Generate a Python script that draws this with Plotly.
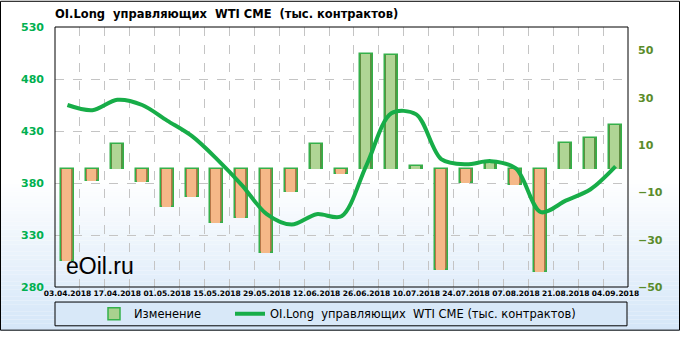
import plotly.graph_objects as go

# ---------------- data ----------------
dates = ["03.04.2018", "10.04.2018", "17.04.2018", "24.04.2018", "01.05.2018", "08.05.2018",
         "15.05.2018", "22.05.2018", "29.05.2018", "05.06.2018", "12.06.2018", "19.06.2018",
         "26.06.2018", "03.07.2018", "10.07.2018", "17.07.2018", "24.07.2018", "31.07.2018",
         "07.08.2018", "14.08.2018", "21.08.2018", "28.08.2018", "04.09.2018"]
change = [-39, -5, 10.5, -5.5, -16, -12, -23, -21, -35.5, -10, 10.5, -2,
          48.5, 48, 1, -43, -6, 2.7, -7, -43.5, 11, 13, 18.5]
oi_long = [455, 450, 460, 455, 440, 425, 403, 378, 350, 340, 350, 348,
           397, 447, 446, 403, 398, 401, 394, 352, 363, 374, 396]
left_ticks = [280, 330, 380, 430, 480, 530]
right_ticks = [-50, -30, -10, 10, 30, 50]

name_bar = "Изменение"
name_line = "OI.Long  управляющих  WTI CME (тыс. контрактов)"
title_text = "OI.Long  управляющих  WTI CME  (тыс. контрактов)"

# ---------------- geometry ----------------
W, H = 680, 340
L, R, T, B = 55, 52, 27, 45
pw, ph = W - L - R, H - T - B


def px(x):
    return (x - L) / pw


def py(y):
    return (H - B - y) / ph


xs = list(range(len(dates)))
pos_dark, pos_light = "#5f8e41", "#b0d595"
neg_dark, neg_light = "#b67648", "#f5b888"
dark_cols = [pos_dark if v >= 0 else neg_dark for v in change]
light_cols = [pos_light if v >= 0 else neg_light for v in change]

fig = go.Figure()
fig.add_trace(go.Bar(x=xs, y=change, width=0.52, yaxis="y", showlegend=False,
                     marker=dict(color=dark_cols, line=dict(color="#34b04a", width=1.5)),
                     hoverinfo="skip"))
fig.add_trace(go.Bar(x=xs, y=change, width=0.36, offset=-0.22, yaxis="y", showlegend=False,
                     marker=dict(color=light_cols, line=dict(width=0)), hoverinfo="skip"))
fig.add_trace(go.Bar(x=[None], y=[None], name=name_bar, yaxis="y", legend="legend",
                     marker=dict(color="#a9d18e", line=dict(color="#34b04a", width=1.5))))
fig.add_trace(go.Scatter(x=xs, y=oi_long, mode="lines", name=name_line, yaxis="y2",
                         legend="legend2",
                         line=dict(color="#17ad48", width=4, shape="spline", smoothing=0.9)))

# ---------------- background shapes ----------------
shapes = []
n = 40
y_top, y_bot = 185, 340
c0, c1 = (255, 255, 255), (212, 230, 248)
for k in range(n):
    a = y_top + (y_bot - y_top) * k / n
    b = y_top + (y_bot - y_top) * (k + 1) / n
    t = (k + 0.5) / n
    col = tuple(round(c0[i] + (c1[i] - c0[i]) * t) for i in range(3))
    shapes.append(dict(type="rect", xref="paper", yref="paper", layer="below",
                       x0=px(0), x1=px(W), y0=py(b), y1=py(a),
                       fillcolor="rgb(%d,%d,%d)" % col, line=dict(width=0)))
# legend box
shapes.append(dict(type="rect", xref="paper", yref="paper", layer="below",
                   x0=px(55), x1=px(627), y0=py(335), y1=py(310.5),
                   fillcolor="#d8e8f8", line=dict(color="black", width=1)))
# plot frame
shapes.append(dict(type="rect", xref="paper", yref="paper", layer="above",
                   x0=0, x1=1, y0=0, y1=1, line=dict(color="black", width=1)))
# outer frame
shapes.append(dict(type="rect", xref="paper", yref="paper", layer="above",
                   x0=px(0.5), x1=px(W - 0.5), y0=py(H - 0.5), y1=py(0.5),
                   line=dict(color="black", width=1)))

leg_font = dict(family="DejaVu Sans", size=11.5, color="black")
fig.update_layout(
    width=W, height=H,
    margin=dict(l=L, r=R, t=T, b=B, pad=0),
    paper_bgcolor="white", plot_bgcolor="rgba(0,0,0,0)",
    barmode="overlay", bargap=0,
    shapes=shapes,
    title=dict(text=title_text, x=px(55), xref="paper", xanchor="left",
               y=1 - 14 / H, yref="container", yanchor="middle",
               font=dict(family="DejaVu Sans", size=11.5, color="black", weight="bold")),
    showlegend=True,
    legend=dict(orientation="h", x=px(94), xanchor="left", y=py(322.5), yanchor="middle",
                bgcolor="rgba(0,0,0,0)", borderwidth=0, font=leg_font, itemwidth=30),
    legend2=dict(orientation="h", x=px(230), xanchor="left", y=py(322.5), yanchor="middle",
                 bgcolor="rgba(0,0,0,0)", borderwidth=0, font=leg_font, itemwidth=30),
    xaxis=dict(range=[-0.5, len(dates) - 0.5], tickmode="array",
               tickvals=xs[::2], ticktext=dates[::2], showgrid=False, zeroline=False,
               showline=False, ticks="",
               tickfont=dict(family="DejaVu Sans", size=7.5, color="black", weight="bold"),
               minor=dict(tickmode="array", tickvals=[i + 0.5 for i in xs[:-1]],
                          showgrid=True, gridcolor="#c4c4c4", griddash="dash", gridwidth=1,
                          ticks="outside", ticklen=3, tickcolor="#c4c4c4")),
    yaxis=dict(side="right", range=[-50, 60], tickmode="array", tickvals=right_ticks,
               showgrid=False, zeroline=False, showline=False, ticklabelstandoff=9,
               tickfont=dict(family="DejaVu Sans", size=11, color="#5a8b2b", weight="bold")),
    yaxis2=dict(overlaying="y", side="left", range=[280, 530], tickmode="array",
                tickvals=left_ticks, showgrid=True, gridcolor="#c4c4c4", griddash="dash",
                zeroline=False, showline=False, ticklabelstandoff=10,
                tickfont=dict(family="DejaVu Sans", size=11, color="#00b050", weight="bold")),
    annotations=[dict(text="eOil.ru", xref="paper", yref="paper", x=px(64), y=py(273),
                      xanchor="left", yanchor="middle", showarrow=False,
                      font=dict(family="Liberation Sans", size=23, color="black"))],
)

fig.write_html("out.html")
